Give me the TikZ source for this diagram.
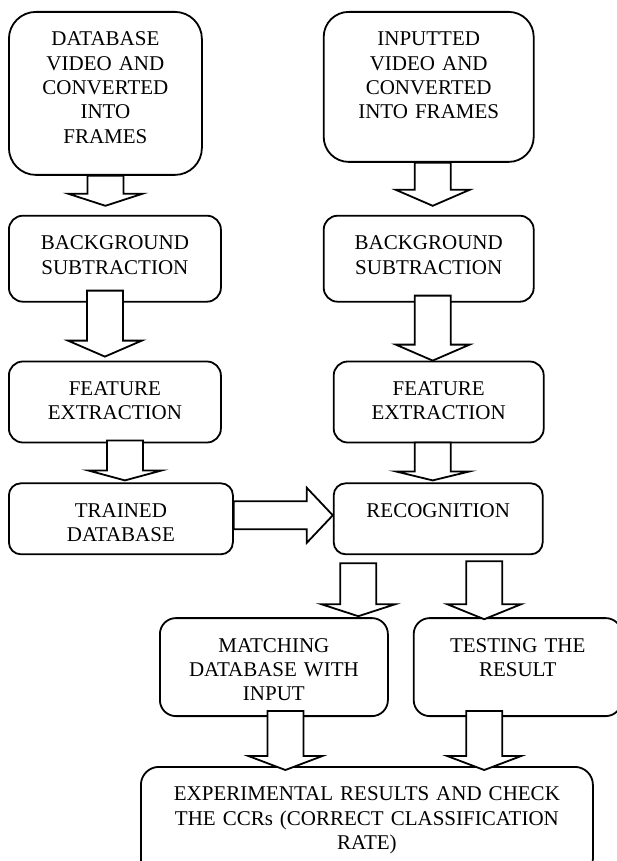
\documentclass[tikz,border=0pt]{standalone}
\usepackage{fontspec}
\setmainfont{Liberation Serif}
\usetikzlibrary{positioning,calc}
\tikzset{
    block/.style={
        rectangle,
        draw,
        line width=1.8pt,
        rounded corners=#1,
        align=center,
        anchor=north west,
        inner xsep=4pt,
        inner ysep=20pt,
        text height=14pt,
        font=\fontsize{21}{24.3}\selectfont % Times-like, as in the figure
    },
    block/.default=14pt,
    fatarrow/.style={
        draw,
        fill=white,
        line width=1.8pt,
        line join=miter
    }
}
% hollow block arrows: #1 shaft start, #2 tip, #3 head length
\newcommand{\blockdown}[3]{%
  \filldraw[fatarrow] let \p1=(#1), \p2=(#2) in
    (\x2-18pt,\y1) -- (\x2-18pt,\y2+#3pt) -- (\x2-37pt,\y2+#3pt) -- (\p2)
    -- (\x2+37pt,\y2+#3pt) -- (\x2+18pt,\y2+#3pt) -- (\x2+18pt,\y1) -- cycle;}
\newcommand{\blockright}[3]{%
  \filldraw[fatarrow] let \p1=(#1), \p2=(#2) in
    (\x1,\y2+14pt) -- (\x2-#3pt,\y2+14pt) -- (\x2-#3pt,\y2+27.5pt) -- (\p2)
    -- (\x2-#3pt,\y2-27.5pt) -- (\x2-#3pt,\y2-14pt) -- (\x1,\y2-14pt) -- cycle;}

\begin{document}
\begin{tikzpicture}[x=1pt, y=1pt]
        \useasboundingbox (0,0) rectangle (617,-861);
        \clip (0,0) rectangle (617,-861);

        % Nodes
        \node (dbvid) [block=27pt, text width=185pt, text depth=109pt] at (8,-11) {DATABASE\\VIDEO AND\\CONVERTED\\INTO\\FRAMES};
        \node (bgsubL) [block, below=39pt of dbvid.south west, anchor=north west, text width=204pt, text depth=32pt] {BACKGROUND\\SUBTRACTION};
        \node (featL) [block, below=58pt of bgsubL.south west, anchor=north west, text width=204pt, text depth=27pt] {FEATURE\\EXTRACTION};
        \node (trained) [block=12pt, below=39pt of featL.south west, anchor=north west, text width=216pt, text depth=17pt] {TRAINED\\DATABASE};

        \node (invid) [block=25pt, right=120pt of dbvid.north east, anchor=north west, text width=202pt, text depth=96pt] {INPUTTED\\VIDEO AND\\CONVERTED\\INTO FRAMES};
        \node (bgsubR) [block, below=52pt of invid.south west, anchor=north west, text width=202pt, text depth=32pt] {BACKGROUND\\SUBTRACTION};
        \node (featR) [block, below=58pt of bgsubR.south west, anchor=north west, xshift=10pt, text width=202pt, text depth=27pt] {FEATURE\\EXTRACTION};
        \node (recog) [block=12pt, below=39pt of featR.south west, anchor=north west, text width=201pt, text depth=17pt] {RECOGNITION};

        \node (match) [block=16pt, below=62pt of trained.south west, anchor=north west, xshift=151pt, text width=220pt, text depth=44pt] {MATCHING\\DATABASE WITH\\INPUT};
        \node (test) [block=16pt, right=24pt of match.north east, anchor=north west, text width=200pt, text depth=44pt] {TESTING THE\\RESULT};
        \node (exp) [block=18pt, below=49pt of match.south west, anchor=north west, xshift=-19pt, text width=444pt, text depth=56pt] {EXPERIMENTAL RESULTS AND CHECK\\THE CCRs (CORRECT CLASSIFICATION\\RATE)};

        % Arrows
        \blockdown{dbvid.south}{$(dbvid.south |- bgsubL.north)+(0,9)$}{12}
        \blockdown{$(bgsubL.south)+(0,12)$}{$(bgsubL.south |- featL.north)+(-10,4)$}{16}
        \blockdown{$(featL.south)+(0,3)$}{$(featL.south |- trained.north)+(10,2)$}{10}
        \blockdown{invid.south}{$(invid.south |- bgsubR.north)+(4,9)$}{16}
        \blockdown{$(bgsubR.south)+(0,7)$}{$(bgsubR.south |- featR.north)+(4,0)$}{16}
        \blockdown{$(featR.south)+(0,1)$}{$(featR.south |- recog.north)+(-6,2)$}{9}
        \blockright{trained.east}{$(recog.west)+(0,3.5)$}{26}
        \blockdown{$(recog.south)+(0,-8)$}{$(recog.south west |- match.north)+(25.5,1)$}{12}
        \blockdown{$(recog.south)+(0,-6)$}{$(test.north)+(-33.5,-2)$}{15}
        \blockdown{$(match.south)+(0,6)$}{$(match.south |- exp.north)+(11.5,-4)$}{14}
        \blockdown{$(test.south)+(0,6)$}{$(test.south |- exp.north)+(-33.5,-4)$}{14}
    \end{tikzpicture}
\end{document}
